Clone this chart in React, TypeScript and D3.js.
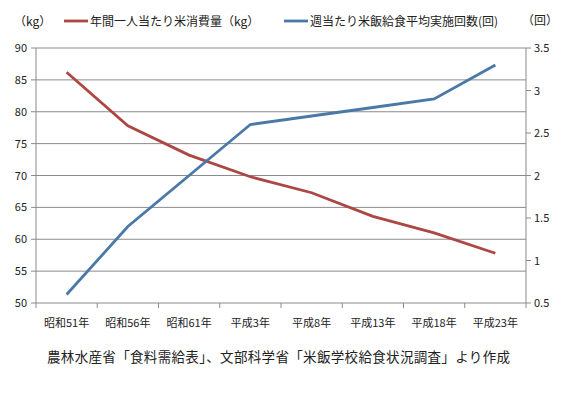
import React from 'react';
import { scaleBand, scaleLinear, line } from 'd3';

const categories = ['昭和51年', '昭和56年', '昭和61年', '平成3年', '平成8年', '平成13年', '平成18年', '平成23年'];
const riceKg = [86.2, 77.8, 73.2, 69.8, 67.3, 63.6, 61.0, 57.8];
const lunchTimes = [0.6, 1.4, 2.0, 2.6, 2.7, 2.8, 2.9, 3.3];
const leftTicks = [50, 55, 60, 65, 70, 75, 80, 85, 90];
const rightTicks = [0.5, 1, 1.5, 2, 2.5, 3, 3.5];

const W = 570;
const H = 396;
const m = { left: 36, right: 526, top: 48, bottom: 303 };
const font = '"Noto Sans CJK JP", "Noto Sans", sans-serif';
const red = '#AD4743';
const blue = '#4A79A8';
const grid = '#8a8a8a';

const App: React.FC = () => {
  const x = scaleBand().domain(categories).range([m.left, m.right]);
  const yL = scaleLinear().domain([50, 90]).range([m.bottom, m.top]);
  const yR = scaleLinear().domain([0.5, 3.5]).range([m.bottom, m.top]);
  const cx = (c: string) => x(c)! + x.bandwidth() / 2;

  const redPath = line<number>().x((_, i) => cx(categories[i])).y(d => yL(d))(riceKg)!;
  const bluePath = line<number>().x((_, i) => cx(categories[i])).y(d => yR(d))(lunchTimes)!;

  return (
    <svg width={W} height={H} style={{ position: 'absolute', left: 0, top: 0, background: '#fff' }}>
      <g fontFamily={font} fill="#222">
        {/* gridlines + left axis */}
        {leftTicks.map(t => (
          <g key={t}>
            <line x1={m.left - 5} x2={m.right} y1={yL(t)} y2={yL(t)} stroke={grid} strokeWidth={1} />
            <text x={m.left - 9} y={yL(t) + 4} fontSize={11} textAnchor="end">{t}</text>
          </g>
        ))}
        <line x1={m.left} x2={m.left} y1={m.top} y2={m.bottom} stroke={grid} />
        <line x1={m.right} x2={m.right} y1={m.top} y2={m.bottom} stroke={grid} />
        {rightTicks.map(t => (
          <g key={t}>
            <line x1={m.right} x2={m.right + 5} y1={yR(t)} y2={yR(t)} stroke={grid} />
            <text x={m.right + 8} y={yR(t) + 4} fontSize={11}>{t}</text>
          </g>
        ))}
        {/* x axis */}
        {categories.map(c => (
          <g key={c}>
            <line x1={x(c)!} x2={x(c)!} y1={m.bottom} y2={m.bottom + 5} stroke={grid} />
            <text x={cx(c)} y={m.bottom + 24} fontSize={11} textAnchor="middle">{c}</text>
          </g>
        ))}
        <line x1={m.right} x2={m.right} y1={m.bottom} y2={m.bottom + 5} stroke={grid} />

        <path d={redPath} fill="none" stroke={red} strokeWidth={2.8} />
        <path d={bluePath} fill="none" stroke={blue} strokeWidth={2.8} />

        {/* legend */}
        <text x={14} y={26} fontSize={12}>（kg）</text>
        <line x1={64} x2={88} y1={21} y2={21} stroke={red} strokeWidth={2.8} />
        <text x={90} y={26} fontSize={12}>年間一人当たり米消費量（kg）</text>
        <line x1={284} x2={308} y1={21} y2={21} stroke={blue} strokeWidth={2.8} />
        <text x={310} y={26} fontSize={12}>週当たり米飯給食平均実施回数(回)</text>
        <text x={522} y={25} fontSize={12}>（回）</text>

        <text x={47} y={362} fontSize={13.5} textLength={463} lengthAdjust="spacing">農林水産省「食料需給表」、文部科学省「米飯学校給食状況調査」より作成</text>
      </g>
    </svg>
  );
};

export default App;
